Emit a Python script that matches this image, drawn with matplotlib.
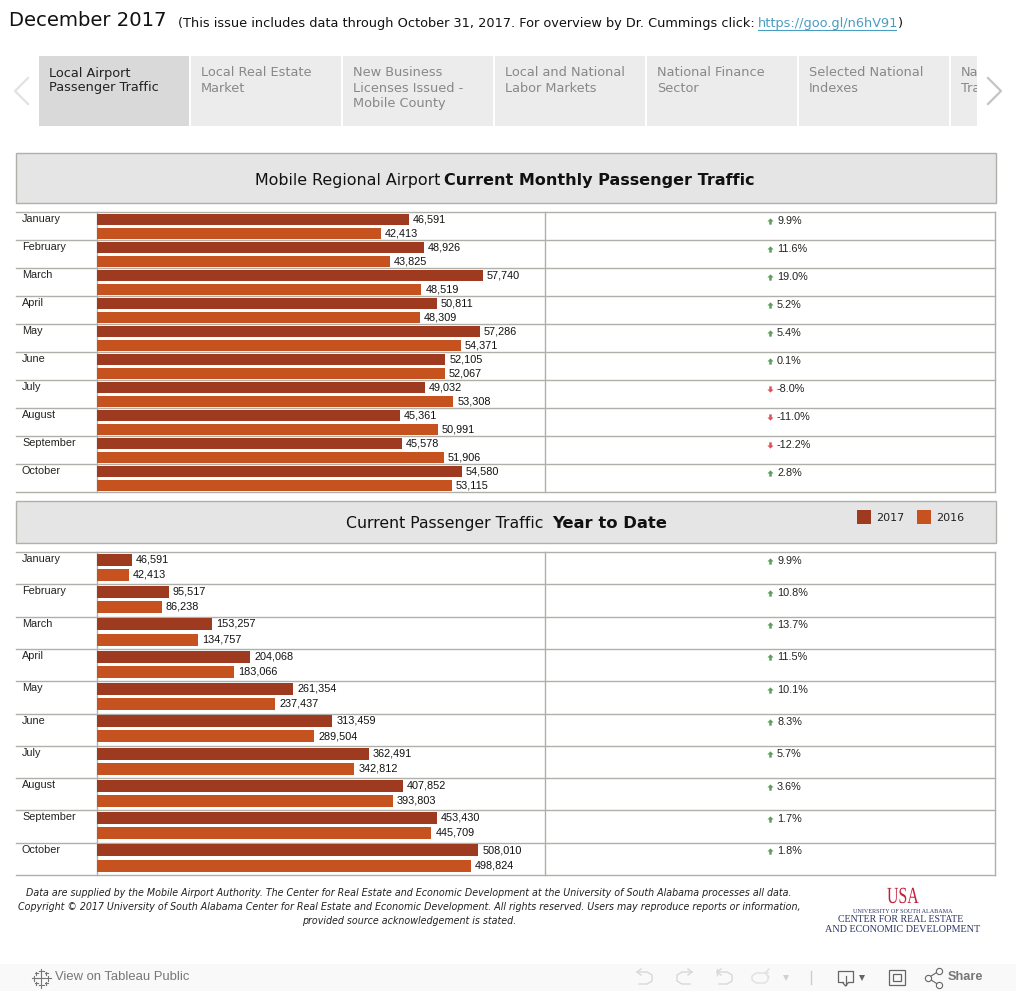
import matplotlib.pyplot as plt
import matplotlib.patches as mpatches
from matplotlib.path import Path
from matplotlib.textpath import TextPath
from matplotlib.font_manager import FontProperties
from matplotlib.transforms import Affine2D

months = ['January', 'February', 'March', 'April', 'May', 'June', 'July',
          'August', 'September', 'October']
monthly_2017 = [46591, 48926, 57740, 50811, 57286, 52105, 49032, 45361, 45578, 54580]
monthly_2016 = [42413, 43825, 48519, 48309, 54371, 52067, 53308, 50991, 51906, 53115]
monthly_pct = [9.9, 11.6, 19.0, 5.2, 5.4, 0.1, -8.0, -11.0, -12.2, 2.8]
ytd_2017 = [46591, 95517, 153257, 204068, 261354, 313459, 362491, 407852, 453430, 508010]
ytd_2016 = [42413, 86238, 134757, 183066, 237437, 289504, 342812, 393803, 445709, 498824]
ytd_pct = [9.9, 10.8, 13.7, 11.5, 10.1, 8.3, 5.7, 3.6, 1.7, 1.8]
tabs = ['Local Airport\nPassenger Traffic', 'Local Real Estate\nMarket',
        'New Business\nLicenses Issued -\nMobile County', 'Local and National\nLabor Markets',
        'National Finance\nSector', 'Selected National\nIndexes', 'National\nTravel']

C2017 = '#9e3a20'
C2016 = '#c65220'
GRID = '#b0b0aa'
HEAD = '#e5e5e5'
W, H = 1016, 991

fig = plt.figure(figsize=(W / 100, H / 100), dpi=100)
bg = fig.add_axes([0, 0, 1, 1])
bg.set_xlim(0, W)
bg.set_ylim(H, 0)
bg.axis('off')

# arrow markers for the percent column
arrow = Path([(-1, 0), (0, 1), (1, 0), (0.4, 0), (0.4, -1), (-0.4, -1), (-0.4, 0), (-1, 0)])
arrow_down = Path([(-1, 0), (0, -1), (1, 0), (0.4, 0), (0.4, 1), (-0.4, 1), (-0.4, 0), (-1, 0)])


def table(top, bottom, v17, v16, pct, xmax, c1, c2, bar_h):
    row = (bottom - top) / len(months)
    ax = fig.add_axes([97 / W, 1 - bottom / H, 448 / W, (bottom - top) / H])
    ax.set_xlim(0, xmax)
    ax.set_ylim(len(months), 0)
    ax.axis('off')
    ys = range(len(months))
    ax.barh([y + c1 for y in ys], v17, height=bar_h, color=C2017)
    ax.barh([y + c2 for y in ys], v16, height=bar_h, color=C2016)
    for y, a, b in zip(ys, v17, v16):
        ax.annotate(f'{a:,}', (a, y + c1), xytext=(2.8, 0.3), textcoords='offset points', va='center',
                    fontsize=7.8, family='Liberation Sans', color='#111111')
        ax.annotate(f'{b:,}', (b, y + c2), xytext=(2.8, 0.3), textcoords='offset points', va='center',
                    fontsize=7.8, family='Liberation Sans', color='#111111')
    # grid and text columns
    for i in range(len(months) + 1):
        y = top + i * row
        bg.plot([16, 995], [y, y], color=GRID, lw=1)
    for x in (97, 545, 995):
        bg.plot([x, x], [top, bottom], color=GRID, lw=1)
    for i, m in enumerate(months):
        y = top + i * row + 7
        bg.text(22, y, m, fontsize=7.8, family='Liberation Sans', va='center', color='#222222')
        up = pct[i] >= 0
        bg.plot(770, y + 1.5, marker=arrow if up else arrow_down, ms=4.5,
                color='#5a9e58' if up else '#d9525e', mew=0, ls='none')
        bg.text(777, y + 1.5, f'{pct[i]:.1f}%', fontsize=7.8, family='Liberation Sans', va='center', color='#222222')


# header line
bg.text(9, 20.5, 'December 2017', fontsize=14.1, va='center', color='#111111')
bg.text(178, 23, '(This issue includes data through October 31, 2017. For overview by Dr. Cummings click:',
        fontsize=9.3, va='center', color='#111111')
bg.text(758, 23, 'https://goo.gl/n6hV91', fontsize=9.25, va='center', color='#4a9cc0')
bg.plot([758, 896], [29.5, 29.5], color='#4a9cc0', lw=0.8)
bg.text(897.5, 23, ')', fontsize=9.3, va='center', color='#111111')

# tab strip
for i, t in enumerate(tabs):
    x = 39 + i * 152
    w = 150 if i < 6 else 26
    box = mpatches.Rectangle((x, 56), w, 70, color='#d9d9d9' if i == 0 else '#ececec', lw=0)
    bg.add_patch(box)
    txt = bg.text(x + 10, 66.5, t, fontsize=9.3, va='top', linespacing=1.2,
                  color='#222222' if i == 0 else '#888888', clip_on=True)
    txt.set_clip_path(box)
bg.plot([28, 15, 28], [78, 91, 104], color='#e2e2e2', lw=1.6)
bg.plot([988, 1001, 988], [78, 91, 104], color='#c4c4c4', lw=1.6)

# section headers
bg.add_patch(mpatches.Rectangle((16, 153), 979.5, 50, fc=HEAD, ec=GRID, lw=1))
bg.text(440, 180, 'Mobile Regional Airport', fontsize=11.4, ha='right', va='center', color='#111111')
bg.text(444, 180, 'Current Monthly Passenger Traffic', fontsize=11.5, fontweight='bold', va='center', color='#111111')
bg.add_patch(mpatches.Rectangle((16, 501), 979.5, 42, fc=HEAD, ec=GRID, lw=1))
bg.text(543.5, 523.5, 'Current Passenger Traffic', fontsize=11.3, ha='right', va='center', color='#111111')
bg.text(552, 523.5, 'Year to Date', fontsize=11.8, fontweight='bold', va='center', color='#111111')

table(212, 492, monthly_2017, monthly_2016, monthly_pct, 67000, 0.28, 0.78, 0.393)
table(552, 875, ytd_2017, ytd_2016, ytd_pct, 597000, 0.24, 0.71, 0.37)

# legend
bg.add_patch(mpatches.Rectangle((857, 510), 14, 14, color=C2017, lw=0))
bg.text(876, 518, '2017', fontsize=8, va='center', color='#222222')
bg.add_patch(mpatches.Rectangle((917, 510), 14, 14, color=C2016, lw=0))
bg.text(936, 518, '2016', fontsize=8, va='center', color='#222222')

# footnote
note = ['Data are supplied by the Mobile Airport Authority. The Center for Real Estate and Economic Development at the University of South Alabama processes all data.',
        'Copyright © 2017 University of South Alabama Center for Real Estate and Economic Development. All rights reserved. Users may reproduce reports or information,',
        'provided source acknowledgement is stated.']
for i, line in enumerate(note):
    bg.text(409, 893.5 + i * 14, line, fontsize=6.88, style='italic', ha='center', va='center', color='#222222')

# logo, the USA letters squeezed to the tall narrow shape of the original
usa = TextPath((0, 0), 'USA', size=22, prop=FontProperties(family='Liberation Serif'))
bg.add_patch(mpatches.PathPatch(usa, fc='#c8203c', lw=0,
                                transform=Affine2D().scale(0.72, -1.05).translate(887, 903) + bg.transData))
bg.text(902.5, 911.5, 'UNIVERSITY OF SOUTH ALABAMA', fontsize=4.4, family='Liberation Serif', ha='center', va='center', color='#2c3565')
bg.text(901, 920, 'CENTER FOR REAL ESTATE', fontsize=7.1, family='Liberation Serif', ha='center', va='center', color='#2c3565')
bg.text(903, 929.5, 'AND ECONOMIC DEVELOPMENT', fontsize=7.25, family='Liberation Serif', ha='center', va='center', color='#2c3565')

# toolbar
bg.add_patch(mpatches.Rectangle((0, 964), W, 27, color='#f9f9f9', lw=0))
bg.text(55, 977.5, 'View on Tableau Public', fontsize=9.4, family='Liberation Sans', va='center', color='#777777')
for dx, dy, s in [(0, 0, 4), (0, -7, 2.5), (0, 7, 2.5), (-7, 0, 2.5), (7, 0, 2.5), (-5, -5, 1.5), (5, -5, 1.5), (-5, 5, 1.5), (5, 5, 1.5)]:
    bg.plot([41 + dx - s, 41 + dx + s], [978 + dy, 978 + dy], color='#777777', lw=0.8)
    bg.plot([41 + dx, 41 + dx], [978 + dy - s, 978 + dy + s], color='#777777', lw=0.8)
# undo, redo, revert, refresh
for x0, flip in [(637, 1), (692, -1), (717, 1)]:
    bg.plot([x0 + 4 * flip, x0, x0 + 4 * flip], [969, 972, 975], color='#d8d8d8', lw=1)
    bg.plot([x0, x0 + 10 * flip, x0 + 15 * flip, x0 + 15 * flip, x0 + 10 * flip, x0 + 2 * flip],
            [972, 972, 975, 981, 984, 984], color='#d8d8d8', lw=1)
bg.plot([717, 717], [969, 975], color='#d8d8d8', lw=1)
bg.plot([769, 765, 769], [969, 973, 977], color='#e0e0e0', lw=1)
bg.plot([768, 756, 752, 752, 756, 765, 768, 768], [973, 973, 976, 980, 983, 983, 980, 976], color='#e0e0e0', lw=1)
bg.plot(786, 978, marker='v', ms=5, color='#d0d0d0', mew=0)
bg.plot([811, 811], [971, 984], color='#cccccc', lw=1)
# download
bg.plot([843, 838, 838, 853, 853, 848], [982, 982, 971, 971, 982, 982], color='#666666', lw=0.9)
bg.plot([845.5, 845.5], [976, 985], color='#666666', lw=0.9)
bg.plot([843, 845.5, 848], [983, 986, 983], color='#666666', lw=0.9)
bg.plot(862, 978, marker='v', ms=5, color='#666666', mew=0)
# fullscreen
bg.add_patch(mpatches.Rectangle((889, 970), 16, 15, fc='none', ec='#666666', lw=0.9))
bg.add_patch(mpatches.Rectangle((893, 974), 8, 7, fc='none', ec='#666666', lw=0.9))
# share
bg.plot([939, 928, 939], [971, 978, 985], color='#666666', lw=0.8, marker='o', ms=4.5, mfc='#f9f9f9', mew=0.8)
bg.text(948, 977.5, 'Share', fontsize=9.2, family='Liberation Sans', fontweight='bold', va='center', color='#777777')

fig.savefig('out.png', dpi=100)
